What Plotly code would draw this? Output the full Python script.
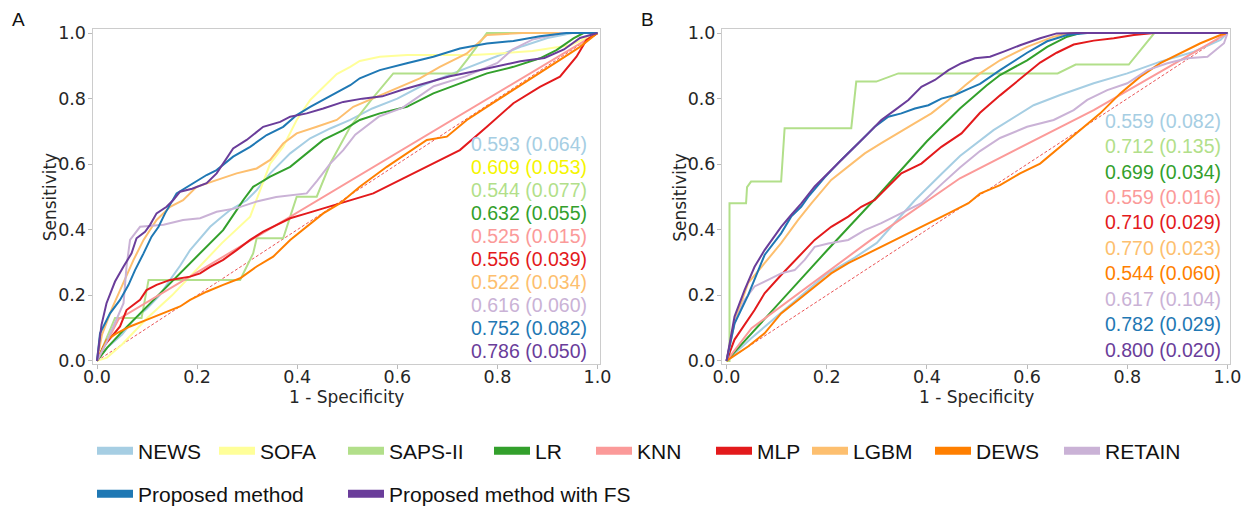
import plotly.graph_objects as go

models = ["NEWS", "SOFA", "SAPS-II", "LR", "KNN", "MLP", "LGBM", "DEWS", "RETAIN",
          "Proposed method", "Proposed method with FS"]
colors = ["#a6cee3", "#ffff99", "#b2df8a", "#33a02c", "#fb9a99", "#e31a1c",
          "#fdbf6f", "#ff7f00", "#cab2d6", "#1f78b4", "#6a3d9a"]
text_colors = ["#a6cee3", "#f5f500", "#b2df8a", "#33a02c", "#fb9a99", "#e31a1c",
               "#fdbf6f", "#ff7f00", "#cab2d6", "#1f78b4", "#6a3d9a"]

# AUC (std) labels shown inside each panel
auc_a = ["0.593 (0.064)", "0.609 (0.053)", "0.544 (0.077)", "0.632 (0.055)", "0.525 (0.015)",
         "0.556 (0.039)", "0.522 (0.034)", "0.616 (0.060)", "0.752 (0.082)", "0.786 (0.050)"]
auc_b = ["0.559 (0.082)", "0.712 (0.135)", "0.699 (0.034)", "0.559 (0.016)", "0.710 (0.029)",
         "0.770 (0.023)", "0.544 (0.060)", "0.617 (0.104)", "0.782 (0.029)", "0.800 (0.020)"]
# colour of each AUC row
rows_a = ["NEWS", "SOFA", "SAPS-II", "LR", "KNN", "MLP", "LGBM", "RETAIN",
          "Proposed method", "Proposed method with FS"]
rows_b = ["NEWS", "SAPS-II", "LR", "KNN", "MLP", "LGBM", "DEWS", "RETAIN",
          "Proposed method", "Proposed method with FS"]

# ---------------- panel A ROC curves (1 - specificity, sensitivity) ----------------
a_news_x = [0, 0.02, 0.05, 0.073, 0.1, 0.125, 0.146, 0.166, 0.186, 0.206, 0.226, 0.246, 0.266, 0.299,
            0.319, 0.346, 0.386, 0.426, 0.466, 0.506, 0.55, 0.6, 0.65, 0.7, 0.75, 0.8, 0.85, 0.9, 0.95, 1.0]
a_news_y = [0, 0.04, 0.08, 0.125, 0.16, 0.2, 0.247, 0.29, 0.338, 0.375, 0.409, 0.435, 0.46, 0.49,
            0.521, 0.572, 0.633, 0.679, 0.709, 0.735, 0.77, 0.80, 0.84, 0.87, 0.9, 0.93, 0.96, 0.985, 1.0, 1.0]

a_sofa_x = [0, 0.02, 0.05, 0.1, 0.15, 0.2, 0.25, 0.306, 0.346, 0.372, 0.399, 0.426, 0.452, 0.479,
            0.506, 0.525, 0.565, 0.62, 0.685, 0.752, 0.805, 0.87, 0.945, 1.0]
a_sofa_y = [0, 0.01, 0.05, 0.13, 0.2, 0.28, 0.36, 0.44, 0.602, 0.653, 0.735, 0.796, 0.836, 0.875,
            0.897, 0.915, 0.928, 0.933, 0.933, 0.933, 0.938, 0.945, 0.963, 1.0]

a_saps_x = [0, 0.036, 0.089, 0.103, 0.286, 0.312, 0.319, 0.372, 0.386, 0.399, 0.439, 0.466, 0.506,
            0.55, 0.592, 0.718, 0.74, 0.779, 1.0]
a_saps_y = [0, 0.131, 0.131, 0.247, 0.247, 0.328, 0.374, 0.374, 0.44, 0.501, 0.501, 0.602, 0.714,
            0.80, 0.877, 0.877, 0.92, 1.0, 1.0]

a_lr_x = [0, 0.02, 0.053, 0.093, 0.133, 0.172, 0.212, 0.252, 0.279, 0.292, 0.312, 0.346, 0.386, 0.419,
          0.452, 0.492, 0.525, 0.565, 0.619, 0.672, 0.725, 0.779, 0.832, 0.885, 0.918, 0.952, 0.972, 1.0]
a_lr_y = [0, 0.04, 0.094, 0.155, 0.216, 0.277, 0.338, 0.399, 0.46, 0.49, 0.531, 0.562, 0.592, 0.633,
          0.674, 0.704, 0.735, 0.755, 0.775, 0.816, 0.846, 0.877, 0.897, 0.923, 0.948, 0.984, 1.0, 1.0]

a_knn_x = [0, 0.02, 0.043, 1.0]
a_knn_y = [0, 0.06, 0.127, 1.0]

a_mlp_x = [0, 0.013, 0.046, 0.059, 0.086, 0.099, 0.119, 0.146, 0.186, 0.206, 0.226, 0.252, 0.279,
           0.306, 0.332, 0.359, 0.386, 0.419, 0.452, 0.499, 0.552, 0.619, 0.672, 0.725, 0.779, 0.832,
           0.885, 0.925, 0.958, 0.978, 1.0]
a_mlp_y = [0, 0.044, 0.105, 0.155, 0.186, 0.216, 0.232, 0.247, 0.257, 0.267, 0.287, 0.308, 0.338,
           0.369, 0.394, 0.415, 0.435, 0.45, 0.465, 0.486, 0.511, 0.562, 0.602, 0.643, 0.714, 0.786,
           0.836, 0.867, 0.928, 0.979, 1.0]

a_lgbm_x = [0, 0.01, 0.03, 0.053, 0.073, 0.093, 0.119, 0.146, 0.172, 0.199, 0.239, 0.279, 0.319, 0.346,
            0.372, 0.399, 0.439, 0.479, 0.512, 0.58, 0.645, 0.685, 0.739, 0.779, 0.85, 1.0]
a_lgbm_y = [0, 0.08, 0.16, 0.237, 0.308, 0.369, 0.43, 0.47, 0.49, 0.531, 0.552, 0.572, 0.587, 0.613,
            0.663, 0.694, 0.714, 0.735, 0.775, 0.82, 0.862, 0.897, 0.938, 0.994, 1.0, 1.0]

a_dews_x = [0, 0.019, 0.039, 0.066, 0.099, 0.133, 0.166, 0.186, 0.219, 0.252, 0.286, 0.319, 0.352,
            0.386, 0.419, 0.452, 0.486, 0.525, 0.579, 0.619, 0.659, 0.699, 0.739, 0.779, 0.832, 0.885,
            0.925, 0.965, 1.0]
a_dews_y = [0, 0.064, 0.084, 0.105, 0.125, 0.145, 0.166, 0.186, 0.211, 0.232, 0.252, 0.288, 0.318,
            0.369, 0.409, 0.45, 0.481, 0.531, 0.592, 0.633, 0.674, 0.684, 0.735, 0.775, 0.826, 0.877,
            0.918, 0.958, 1.0]

a_retain_x = [0, 0.02, 0.053, 0.059, 0.066, 0.086, 0.133, 0.172, 0.206, 0.239, 0.279, 0.319, 0.358,
              0.386, 0.419, 0.44, 0.466, 0.492, 0.516, 0.563, 0.61, 0.673, 0.736, 0.8, 0.83, 0.87, 0.93, 1.0]
a_retain_y = [0, 0.06, 0.176, 0.288, 0.369, 0.409, 0.415, 0.43, 0.435, 0.455, 0.466, 0.486, 0.5,
              0.505, 0.511, 0.55, 0.602, 0.643, 0.69, 0.745, 0.772, 0.838, 0.868, 0.909, 0.95, 0.98, 1.0, 1.0]

a_prop_x = [0, 0.006, 0.026, 0.046, 0.063, 0.076, 0.093, 0.109, 0.123, 0.136, 0.159, 0.186, 0.219,
            0.239, 0.272, 0.306, 0.339, 0.372, 0.399, 0.426, 0.452, 0.479, 0.506, 0.525, 0.565, 0.619,
            0.672, 0.725, 0.779, 0.832, 0.885, 0.938, 1.0]
a_prop_y = [0, 0.084, 0.145, 0.186, 0.232, 0.277, 0.328, 0.379, 0.409, 0.45, 0.511, 0.537, 0.567,
            0.582, 0.623, 0.653, 0.689, 0.714, 0.75, 0.775, 0.796, 0.817, 0.841, 0.862, 0.887, 0.908,
            0.928, 0.953, 0.968, 0.976, 0.99, 1.0, 1.0]

a_fs_x = [0, 0.009, 0.019, 0.036, 0.053, 0.069, 0.079, 0.096, 0.106, 0.119, 0.139, 0.152, 0.166, 0.19,
          0.219, 0.239, 0.272, 0.299, 0.332, 0.366, 0.386, 0.419, 0.452, 0.492, 0.53, 0.57, 0.61, 0.657,
          0.705, 0.752, 0.8, 0.846, 0.894, 0.933, 0.965, 1.0]
a_fs_y = [0, 0.11, 0.176, 0.242, 0.288, 0.328, 0.374, 0.394, 0.415, 0.45, 0.47, 0.49, 0.516, 0.525,
          0.542, 0.572, 0.648, 0.674, 0.714, 0.729, 0.745, 0.755, 0.77, 0.79, 0.80, 0.807, 0.827, 0.848,
          0.868, 0.883, 0.898, 0.914, 0.924, 0.95, 0.985, 1.0]

# ---------------- panel B ROC curves ----------------
b_news_x = [0, 0.05, 0.1, 0.15, 0.2, 0.256, 0.3, 0.329, 0.376, 0.429, 0.466, 0.533, 0.613, 0.666,
            0.733, 0.8, 0.866, 0.933, 0.986, 1.0]
b_news_y = [0, 0.07, 0.135, 0.2, 0.265, 0.315, 0.36, 0.41, 0.49, 0.57, 0.625, 0.704, 0.78, 0.811,
            0.847, 0.877, 0.913, 0.943, 0.979, 1.0]

b_saps_x = [0, 0.006, 0.006, 0.039, 0.041, 0.049, 0.109, 0.116, 0.249, 0.259, 0.299, 0.343, 0.661,
            0.697, 0.803, 0.854, 1.0]
b_saps_y = [0, 0, 0.481, 0.481, 0.53, 0.547, 0.547, 0.71, 0.71, 0.852, 0.852, 0.877, 0.877,
            0.904, 0.904, 1.0, 1.0]

b_lr_x = [0, 0.1, 0.2, 0.3, 0.4, 0.466, 0.519, 0.546, 0.573, 0.6, 0.64, 0.68, 0.706, 1.0]
b_lr_y = [0, 0.168, 0.336, 0.5, 0.67, 0.77, 0.84, 0.872, 0.895, 0.917, 0.958, 0.989, 1.0, 1.0]

b_knn_x = [0, 0.05, 0.289, 0.466, 0.733, 1.0]
b_knn_y = [0, 0.1, 0.37, 0.557, 0.765, 1.0]

b_mlp_x = [0, 0.016, 0.056, 0.076, 0.109, 0.143, 0.176, 0.209, 0.243, 0.269, 0.296, 0.309, 0.349,
           0.389, 0.429, 0.469, 0.496, 0.506, 0.546, 0.586, 0.626, 0.659, 0.693, 0.733, 0.773, 0.813,
           0.853, 1.0]
b_mlp_y = [0, 0.065, 0.155, 0.206, 0.262, 0.318, 0.369, 0.409, 0.44, 0.47, 0.491, 0.511, 0.572,
           0.602, 0.653, 0.694, 0.74, 0.757, 0.81, 0.86, 0.91, 0.94, 0.965, 0.977, 0.984, 0.994,
           1.0, 1.0]

b_lgbm_x = [0, 0.016, 0.03, 0.043, 0.076, 0.109, 0.143, 0.169, 0.209, 0.243, 0.276, 0.309, 0.343,
            0.376, 0.409, 0.443, 0.476, 0.506, 0.546, 0.6, 0.653, 0.686, 1.0]
b_lgbm_y = [0, 0.12, 0.18, 0.237, 0.298, 0.359, 0.43, 0.48, 0.552, 0.593, 0.633, 0.664, 0.694,
            0.725, 0.755, 0.796, 0.84, 0.877, 0.917, 0.958, 0.989, 1.0, 1.0]

b_dews_x = [0, 0.02, 0.043, 0.076, 0.109, 0.143, 0.176, 0.209, 0.243, 0.283, 0.323, 0.363, 0.403,
            0.443, 0.483, 0.506, 0.546, 0.586, 0.626, 0.666, 0.706, 0.746, 0.786, 0.826, 0.866, 0.906,
            0.946, 0.986, 1.0]
b_dews_y = [0, 0.02, 0.044, 0.084, 0.145, 0.186, 0.227, 0.267, 0.298, 0.328, 0.359, 0.389, 0.42,
            0.45, 0.481, 0.51, 0.536, 0.572, 0.602, 0.654, 0.704, 0.755, 0.816, 0.867, 0.908, 0.938,
            0.969, 0.994, 1.0]

b_retain_x = [0, 0.016, 0.036, 0.056, 0.083, 0.109, 0.136, 0.156, 0.176, 0.203, 0.243, 0.276, 0.309,
              0.349, 0.389, 0.43, 0.466, 0.506, 0.546, 0.6, 0.653, 0.693, 0.72, 0.76, 0.8, 0.84, 0.88,
              0.92, 0.96, 0.993, 1.0]
b_retain_y = [0, 0.115, 0.186, 0.227, 0.247, 0.267, 0.277, 0.308, 0.348, 0.358, 0.369, 0.399, 0.42,
              0.45, 0.481, 0.54, 0.59, 0.64, 0.68, 0.714, 0.735, 0.765, 0.796, 0.826, 0.847, 0.887,
              0.908, 0.923, 0.928, 0.969, 1.0]

b_prop_x = [0, 0.016, 0.043, 0.076, 0.109, 0.129, 0.149, 0.163, 0.196, 0.229, 0.263, 0.296, 0.323,
            0.349, 0.376, 0.403, 0.429, 0.456, 0.483, 0.506, 0.546, 0.566, 0.6, 0.64, 0.68, 0.72, 1.0]
b_prop_y = [0, 0.114, 0.2, 0.323, 0.389, 0.44, 0.47, 0.5, 0.56, 0.613, 0.664, 0.714, 0.745, 0.755,
            0.77, 0.78, 0.8, 0.811, 0.83, 0.845, 0.887, 0.907, 0.94, 0.975, 0.994, 1.0, 1.0]

b_fs_x = [0, 0.016, 0.036, 0.056, 0.076, 0.096, 0.109, 0.129, 0.149, 0.176, 0.203, 0.229, 0.256,
          0.283, 0.309, 0.336, 0.363, 0.389, 0.416, 0.443, 0.469, 0.496, 0.526, 0.556, 0.586, 0.626,
          0.659, 0.70, 1.0]
b_fs_y = [0, 0.135, 0.216, 0.287, 0.338, 0.379, 0.409, 0.445, 0.48, 0.532, 0.572, 0.613, 0.653,
          0.694, 0.735, 0.765, 0.796, 0.836, 0.857, 0.887, 0.908, 0.923, 0.928, 0.945, 0.963, 0.984,
          0.999, 1.0, 1.0]

chance = [0, 1]

curves_a = {
    "NEWS": (a_news_x, a_news_y), "SOFA": (a_sofa_x, a_sofa_y), "SAPS-II": (a_saps_x, a_saps_y),
    "LR": (a_lr_x, a_lr_y), "KNN": (a_knn_x, a_knn_y), "MLP": (a_mlp_x, a_mlp_y),
    "LGBM": (a_lgbm_x, a_lgbm_y), "DEWS": (a_dews_x, a_dews_y), "RETAIN": (a_retain_x, a_retain_y),
    "Proposed method": (a_prop_x, a_prop_y), "Proposed method with FS": (a_fs_x, a_fs_y),
}
curves_b = {
    "NEWS": (b_news_x, b_news_y), "SAPS-II": (b_saps_x, b_saps_y),
    "LR": (b_lr_x, b_lr_y), "KNN": (b_knn_x, b_knn_y), "MLP": (b_mlp_x, b_mlp_y),
    "LGBM": (b_lgbm_x, b_lgbm_y), "DEWS": (b_dews_x, b_dews_y), "RETAIN": (b_retain_x, b_retain_y),
    "Proposed method": (b_prop_x, b_prop_y), "Proposed method with FS": (b_fs_x, b_fs_y),
}

# legend layout: swatch left edge (px) and row of each entry
legend_left_px = [97, 219, 348, 494, 596, 716, 812, 935, 1064, 97, 348]
legend_row_y = [0.112] * 9 + [0.0276] * 2

col = dict(zip(models, colors))
tcol = dict(zip(models, text_colors))

fig = go.Figure()

for xa, ya, curves in [("x", "y", curves_a), ("x2", "y2", curves_b)]:
    fig.add_trace(go.Scatter(x=chance, y=chance, mode="lines", xaxis=xa, yaxis=ya,
                             line=dict(color="rgba(227,26,28,0.75)", width=1, dash="3px,2px"),
                             showlegend=False, hoverinfo="skip"))
    for m in models:
        if m not in curves:
            continue
        cx, cy = curves[m]
        fig.add_trace(go.Scatter(x=cx, y=cy, mode="lines", xaxis=xa, yaxis=ya,
                                 line=dict(color=col[m], width=2), showlegend=False, name=m))

legend_font = dict(family="Liberation Sans", size=21, color="#111111")
legends = {}
# one small legend per entry so each swatch sits where the original puts it
for i, m in enumerate(models):
    key = "legend" if i == 0 else "legend%d" % (i + 1)
    fig.add_trace(go.Scatter(x=[None], y=[None], mode="lines", name=m,
                             line=dict(color=col[m], width=8), legend=key))
    legends[key] = dict(orientation="h", x=(legend_left_px[i] - 5) / 1250, y=legend_row_y[i],
                        xanchor="left", yanchor="middle", font=legend_font, itemwidth=36,
                        bgcolor="rgba(0,0,0,0)")

tick_font = dict(family="DejaVu Sans", size=17.5, color="#262626")
ax_common = dict(range=[-0.009, 1.005], tickvals=[0, 0.2, 0.4, 0.6, 0.8, 1.0], tickformat=".1f",
                 ticks="outside", ticklen=4, tickcolor="#bbbbbb", showline=True, mirror=True,
                 linecolor="#cccccc", linewidth=1, showgrid=False, zeroline=False, tickfont=tick_font,
                 automargin=False, ticklabelstandoff=-7)
ay_common = dict(range=[-0.011, 1.011], tickvals=[0, 0.2, 0.4, 0.6, 0.8, 1.0], tickformat=".1f",
                 ticks="outside", ticklen=4, tickcolor="#bbbbbb", showline=True, mirror=True,
                 linecolor="#cccccc", linewidth=1, showgrid=False, zeroline=False, tickfont=tick_font,
                 automargin=False, ticklabelstandoff=-2)

fig.update_layout(
    width=1250, height=508,
    margin=dict(l=0, r=0, t=0, b=0, autoexpand=False),
    paper_bgcolor="white", plot_bgcolor="white",
    xaxis=dict(domain=[0.074, 0.48], anchor="y", **ax_common),
    yaxis=dict(domain=[0.2825, 0.942], anchor="x", **ay_common),
    xaxis2=dict(domain=[0.5776, 0.984], anchor="y2", **ax_common),
    yaxis2=dict(domain=[0.2825, 0.942], anchor="x2", **ay_common),
    **legends,
)

ann = []
for letter, lx in [("A", 0.008), ("B", 0.511)]:
    ann.append(dict(text=letter, x=lx, y=0.961, xref="paper", yref="paper", xanchor="left",
                    yanchor="middle", showarrow=False,
                    font=dict(family="Liberation Sans", size=19, color="#111111")))
for xa, ya in [("x", "y"), ("x2", "y2")]:
    ann.append(dict(text="1 - Specificity", x=0.5, y=-0.096, xref=xa + " domain", yref=ya + " domain",
                    xanchor="center", yanchor="middle", showarrow=False,
                    font=dict(family="DejaVu Sans", size=17, color="#262626")))
    ann.append(dict(text="Sensitivity", x=-0.083, y=0.5, xref=xa + " domain", yref=ya + " domain",
                    xanchor="center", yanchor="middle", textangle=-90, showarrow=False,
                    font=dict(family="DejaVu Sans", size=17, color="#262626")))

# AUC (std) annotations, right-aligned inside each panel
for i, (lab, m) in enumerate(zip(auc_a, rows_a)):
    ann.append(dict(text=lab, x=0.983, y=0.662 - i * 0.0701, xref="x", yref="y", xanchor="right",
                    yanchor="middle", showarrow=False,
                    font=dict(family="Liberation Sans", size=19.5, color=tcol[m])))
for i, (lab, m) in enumerate(zip(auc_b, rows_b)):
    ann.append(dict(text=lab, x=0.992, y=0.733 - i * 0.0777, xref="x2", yref="y2", xanchor="right",
                    yanchor="middle", showarrow=False,
                    font=dict(family="Liberation Sans", size=19.5, color=tcol[m])))

fig.update_layout(annotations=ann)
# drop the browser's default 8px body margin so the figure sits at the page origin
fig.write_html("out.html", config={"displayModeBar": False},
               post_script="document.body.style.margin='0px';")
